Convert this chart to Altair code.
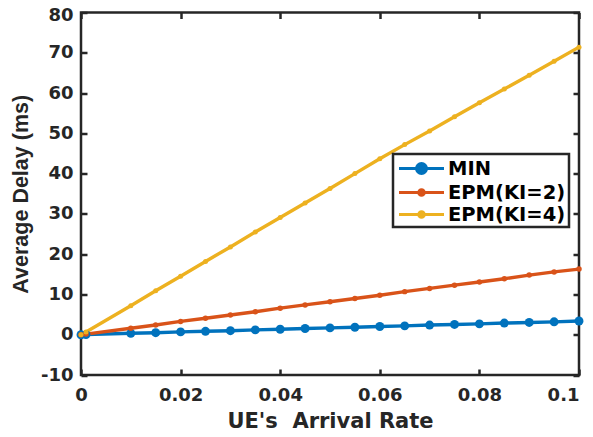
import altair as alt
import pandas as pd

series_names = ["MIN", "EPM(KI=2)", "EPM(KI=4)"]
colors = ["#0072BD", "#D95319", "#EDB120"]
marker_sizes = [80, 30, 25]

x_vals = [0, 0.001, 0.01, 0.015, 0.02, 0.025, 0.03, 0.035, 0.04, 0.045, 0.05,
          0.055, 0.06, 0.065, 0.07, 0.075, 0.08, 0.085, 0.09, 0.095, 0.1]
min_vals = [0, 0.03, 0.35, 0.5, 0.7, 0.85, 1.0, 1.2, 1.35, 1.55, 1.7,
            1.85, 2.05, 2.2, 2.4, 2.55, 2.7, 2.9, 3.05, 3.2, 3.4]
epm2_vals = [0, 0.16, 1.6, 2.4, 3.3, 4.1, 4.9, 5.7, 6.6, 7.4, 8.2,
             9.0, 9.8, 10.7, 11.5, 12.3, 13.1, 13.9, 14.8, 15.6, 16.3]
epm4_vals = [0, 0.7, 7.2, 10.9, 14.5, 18.2, 21.8, 25.5, 29.1, 32.7, 36.3,
             40.0, 43.7, 47.2, 50.6, 54.1, 57.6, 61.0, 64.4, 67.9, 71.4]

x_ticks = [0, 0.02, 0.04, 0.06, 0.08, 0.1]
y_ticks = [-10, 0, 10, 20, 30, 40, 50, 60, 70, 80]

rows = []
for name, msz, vals in zip(series_names, marker_sizes, [min_vals, epm2_vals, epm4_vals]):
    for xv, yv in zip(x_vals, vals):
        rows.append({"x": xv, "y": yv, "series": name, "msize": msz})
df = pd.DataFrame(rows)

INK = "#262626"
HFONT = "DejaVu Sans"

xs = alt.Scale(domain=[0, 0.1], nice=False, zero=False)
ys = alt.Scale(domain=[-10, 80], nice=False, zero=False)
cs = alt.Scale(domain=series_names, range=colors)

common = dict(domain=False, grid=False, tickSize=6, offset=-6, tickColor=INK,
              tickWidth=2.5, labelFont=HFONT, labelFontSize=18,
              labelFontWeight="bold", labelColor=INK, titleColor=INK)

x_axis = alt.Axis(orient="bottom", values=x_ticks, format="~g", labelPadding=11,
                  labelAlign=alt.ExprRef("datum.value >= 0.099 ? 'right' : 'center'"),
                  title="UE's \u00a0Arrival Rate", titleFont=HFONT, titleFontSize=21,
                  titleFontWeight="bold", titlePadding=6, **common)
y_axis = alt.Axis(orient="left", values=y_ticks, labelPadding=8,
                  labelExpr="replace(datum.label, '\u2212', '-')",
                  labelOffset=alt.ExprRef("datum.value >= 80 ? 2.5 : 0"),
                  title="Average Delay (ms)", titleFont="Liberation Sans",
                  titleFontSize=21.5, titleFontWeight="bold", titlePadding=7.5,
                  **common)
x_top = alt.Axis(orient="top", values=x_ticks, labels=False, title=None, **common)
y_right = alt.Axis(orient="right", values=y_ticks, labels=False, title=None, **common)

p_big = "M-2.25,0H2.25M-0.5,0A0.5,0.5,0,1,0,0.5,0A0.5,0.5,0,1,0,-0.5,0Z"
p_small = "M-2.25,0H2.25M-0.28,0A0.28,0.28,0,1,0,0.28,0A0.28,0.28,0,1,0,-0.28,0Z"

legend = alt.Legend(
    title=None, orient="none", legendX=312, legendY=141.5,
    labelFont=HFONT, labelFontSize=19.5, labelFontWeight="bold", labelColor="#000000",
    symbolSize=400, symbolStrokeWidth=3, symbolOffset=14, labelOffset=15,
    padding=3, rowPadding=1, strokeColor=INK, fillColor="white",
    symbolType=alt.ExprRef(f"datum.value == 'MIN' ? '{p_big}' : '{p_small}'"),
    symbolFillColor=alt.ExprRef("scale('color', datum.value)"),
    symbolStrokeColor=alt.ExprRef("scale('color', datum.value)"),
    symbolOpacity=1,
)

base = alt.Chart(df)

lines = base.mark_line(strokeWidth=3.4).encode(
    x=alt.X("x:Q", scale=xs, axis=x_axis),
    y=alt.Y("y:Q", scale=ys, axis=y_axis),
    color=alt.Color("series:N", scale=cs, legend=legend),
)

points = base.mark_point(filled=True, opacity=1).encode(
    x=alt.X("x:Q", scale=xs, axis=None),
    y=alt.Y("y:Q", scale=ys, axis=None),
    color=alt.Color("series:N", scale=cs, legend=None),
    size=alt.Size("msize:Q", scale=None, legend=None),
)

frame_axes = base.mark_point(opacity=0).encode(
    x=alt.X("x:Q", scale=xs, axis=x_top),
    y=alt.Y("y:Q", scale=ys, axis=y_right),
)

chart = alt.layer(lines, frame_axes, points).resolve_axis(
    x="independent", y="independent"
).properties(
    width=498, height=362.5,
    padding={"left": 73, "top": 4.5, "right": 6, "bottom": 58},
    autosize=alt.AutoSizeParams(type="none"),
).configure_view(stroke=INK, strokeWidth=2.5).configure_legend(strokeWidth=2.5)

chart.save("out.html", embed_options={"renderer": "svg", "actions": False})
